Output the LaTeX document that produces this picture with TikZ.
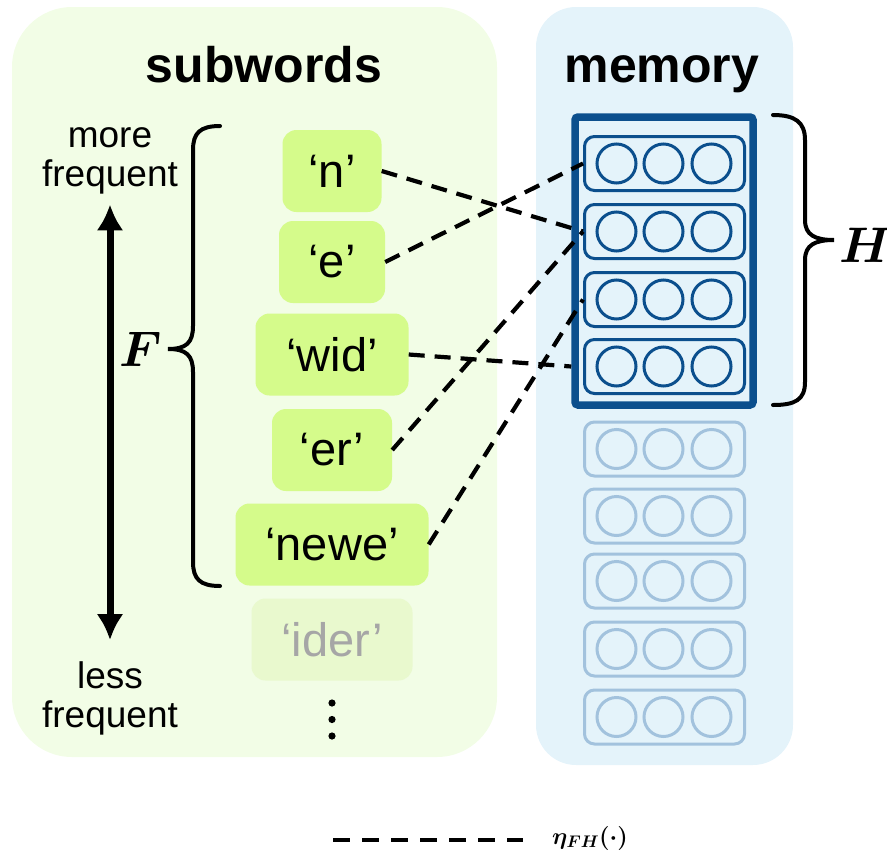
\RequirePackage{fix-cm}
\documentclass[tikz,border=0pt]{standalone}
\usepackage{amsmath}
\usepackage{bm}
\usepackage{fontspec}
\setsansfont{Liberation Sans}
\usepackage{tikz}
\usetikzlibrary{arrows.meta,positioning,calc}

\definecolor{subbg}{HTML}{F2FDE6}
\definecolor{membg}{HTML}{E4F3FA}
\definecolor{subgreen}{HTML}{D5FB8B}
\definecolor{subpale}{HTML}{E9F9CE}
\definecolor{subgray}{HTML}{A6A6A6}
\definecolor{memblue}{HTML}{0B4F8D}
\definecolor{memlight}{HTML}{A2C2DD}

\begin{document}
\begin{tikzpicture}[x=1pt,y=-1pt]

\tikzset{subbox/.style={fill=subgreen, rounded corners=14pt, minimum height=82pt, inner sep=0pt,
   font=\sffamily\fontsize{47}{50}\selectfont},
memrow/.style={draw=#1, line width=3pt, rounded corners=10pt, minimum width=160pt, minimum height=54pt},
memrow/.default={memblue},
title/.style={font=\sffamily\bfseries\fontsize{50}{55}\selectfont, anchor=base},
freqtext/.style={font=\sffamily\fontsize{37}{39}\selectfont, align=center, inner sep=0pt},
mapline/.style={line width=4.2pt, dash pattern=on 16pt off 10pt},
brace/.style={line width=4pt, line cap=round}}

\useasboundingbox (0,0) rectangle (887,857);

% the two panels
\fill[subbg, rounded corners=60pt] (12,7) rectangle (497,757);
\fill[membg, rounded corners=40pt] (536,7) rectangle (793,765);

\node[title] (subtitle) at (264,82) {subwords};
\node[title] (memtitle) at (662,82) {memory};

% subwords, most frequent on top
\foreach \nm/\txt/\y/\w in {n/‘n’/171/99, e/‘e’/262/106, wid/‘wid’/354.5/153, er/‘er’/450/120, newe/‘newe’/544.5/193}
  \node[subbox, minimum width=\w pt] (\nm) at (332,\y) {\txt};
\node[subbox, fill=subpale, text=subgray, minimum width=161pt] (ider) at (332,639.5) {‘ider’};

\foreach \y in {703,719.5,736}
  \fill (332,\y) circle (3.6);

% frequency axis
\node[freqtext] (more) at (110,161) {more\\frequent};
\node[freqtext] (less) at (110,698) {less\\frequent};
\draw[line width=7pt, {Latex[length=26pt,width=27pt]}-{Latex[length=26pt,width=27pt]},
   shorten <=10pt, shorten >=21pt] (more.south) -- (less.north);

\draw[brace] (220,126) .. controls (200,126) and (193,133) .. (193,150) -- (193,326)
   .. controls (193,343) and (186,349) .. (168,349) .. controls (186,349) and (193,355) .. (193,372)
   -- (193,562) .. controls (193,579) and (200,586) .. (220,586);
\node[font=\fontsize{50}{55}\selectfont] (F) at (141,349) {$\bm{F}$};

% memory slots: the first four are in use
\node[draw=memblue, line width=7.5pt, rounded corners=3pt, minimum width=178pt, minimum height=288pt] (frame) at (664,261) {};
\foreach \i/\y in {1/163.5, 2/231.5, 3/299.5, 4/366.5}{
  \node[memrow] (mem\i) at (664.5,\y) {};
  \foreach \dx in {-48,-1,47}
    \draw[memblue, line width=3pt] ([xshift=\dx pt]mem\i.center) circle (19.5);
}
\foreach \i/\y in {5/449, 6/516, 7/581, 8/649, 9/717}{
  \node[memrow=memlight] (mem\i) at (664.5,\y) {};
  \foreach \dx in {-48,-1,47}
    \draw[memlight, line width=3pt] ([xshift=\dx pt]mem\i.center) circle (19.5);
}

\draw[brace] (773,115) .. controls (795,115) and (805,122) .. (805,140) -- (805,220)
   .. controls (805,235) and (815,240) .. (834,240) .. controls (815,240) and (805,245) .. (805,260)
   -- (805,382) .. controls (805,400) and (795,405) .. (773,405);
\node[font=\fontsize{50}{55}\selectfont] (H) at (866,245) {$\bm{H}$};

% hashing of subwords into slots
\draw[mapline] (n.east) -- (mem2.west);
\draw[mapline] (e.east) -- (mem1.west);
\draw[mapline] (wid.east) -- (frame.west |- mem4.west);
\draw[mapline] (er.east) -- (mem2.west);
\draw[mapline] (newe.east) -- (mem3.west);

%legend
\coordinate (legA) at (333,840);
\coordinate (legB) at (523,840);
\draw[mapline, line width=4.5pt, dash pattern=on 17pt off 12pt] (legA) -- (legB);
\node[anchor=west, inner sep=0pt, font=\fontsize{24}{28}\selectfont] (legtxt) at (552,838) {$\bm{\eta_{FH}(\cdot)}$};

\end{tikzpicture}
\end{document}
